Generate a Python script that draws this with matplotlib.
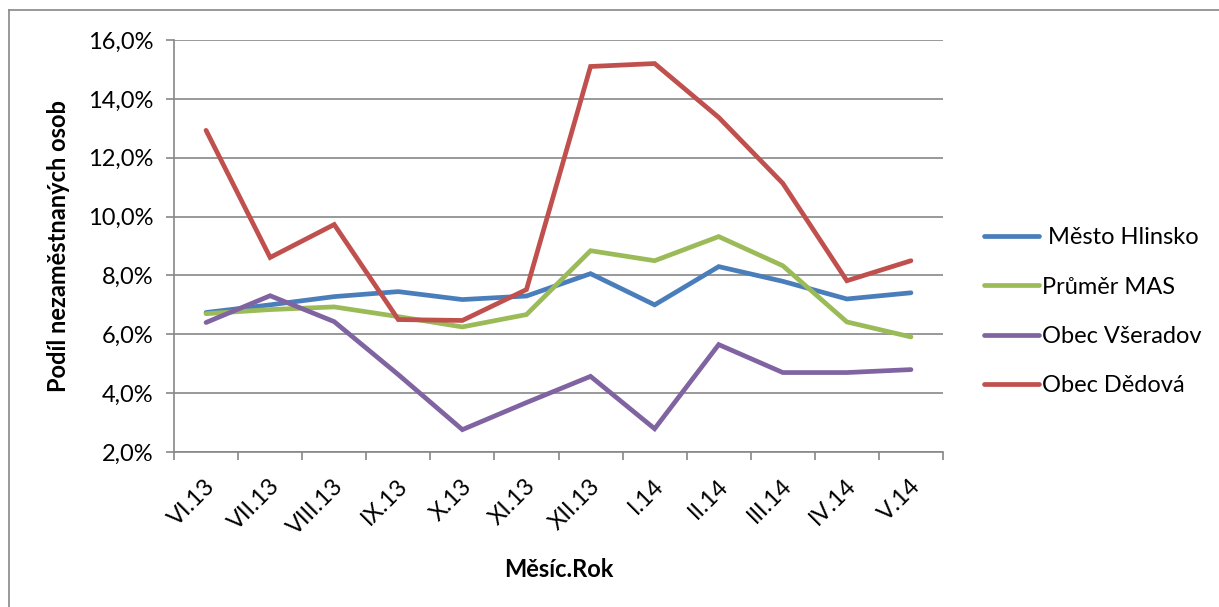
import numpy as np
import matplotlib
matplotlib.use('Agg')
import matplotlib.pyplot as plt
from matplotlib.lines import Line2D
from matplotlib.ticker import FuncFormatter, MultipleLocator, FixedLocator
import matplotlib.transforms as mtransforms

plt.rcParams['font.family'] = ['Lato', 'DejaVu Sans']

months = ['VI.13', 'VII.13', 'VIII.13', 'IX.13', 'X.13', 'XI.13',
          'XII.13', 'I.14', 'II.14', 'III.14', 'IV.14', 'V.14']

# share of unemployed persons, %
hlinsko = [6.74, 7.0, 7.28, 7.45, 7.18, 7.3, 8.06, 7.0, 8.3, 7.8, 7.2, 7.41]
mas = [6.7, 6.84, 6.93, 6.6, 6.25, 6.67, 8.84, 8.5, 9.32, 8.33, 6.42, 5.91]
vseradov = [6.4, 7.31, 6.43, 4.63, 2.76, 3.68, 4.57, 2.79, 5.65, 4.7, 4.7, 4.8]
dedova = [12.93, 8.61, 9.73, 6.5, 6.47, 7.52, 15.1, 15.2, 13.37, 11.13, 7.82, 8.5]

series = [(' Město Hlinsko', hlinsko, '#4A7EBB'),
          ('Průměr MAS', mas, '#9BBB59'),
          ('Obec Všeradov', vseradov, '#8064A2'),
          ('Obec Dědová', dedova, '#C0504D')]

fs = 17

fig = plt.figure(figsize=(12.19, 6.07), dpi=100)
ax = fig.add_axes([174 / 1219, 1 - 452 / 607, (943 - 174) / 1219, (452 - 40) / 607])

x = np.arange(len(months))
for name, vals, col in series:
    ax.plot(x, vals, color=col, lw=3.4, solid_capstyle='round', solid_joinstyle='miter', label=name)

ax.set_xlim(-0.5, len(months) - 0.5)
ax.set_ylim(2, 16)
ax.yaxis.set_major_locator(MultipleLocator(2))
ax.yaxis.set_major_formatter(FuncFormatter(lambda v, p: f'{v:.1f}%'.replace('.', ',')))
ax.grid(axis='y', color='#888888', lw=1.2)
ax.set_axisbelow(True)

ax.xaxis.set_major_locator(FixedLocator(np.arange(-0.5, len(months))))
ax.xaxis.set_major_formatter(FuncFormatter(lambda v, p: ''))
ax.xaxis.set_minor_locator(FixedLocator(x))
ax.set_xticklabels(months, minor=True, rotation=45, ha='right', va='center',
                   rotation_mode='anchor', fontsize=fs)
ax.tick_params(axis='x', which='major', length=6, color='#888888', width=1.2)
ax.tick_params(axis='x', which='minor', length=0, pad=22)
ax.tick_params(axis='y', length=6, color='#888888', width=1.2, labelsize=fs, pad=9)
off = mtransforms.ScaledTranslation(6 / 100, 0, fig.dpi_scale_trans)
for lbl in ax.get_xticklabels(minor=True):
    lbl.set_transform(lbl.get_transform() + off)

for s in ['top', 'right']:
    ax.spines[s].set_visible(False)
for s in ['left', 'bottom']:
    ax.spines[s].set_color('#888888')
    ax.spines[s].set_linewidth(1.2)

ax.set_xlabel('Měsíc.Rok', fontsize=fs, fontweight='bold')
ax.set_ylabel('Podíl nezaměstnaných osob', fontsize=fs, fontweight='bold')
ax.xaxis.set_label_coords((559 - 174) / (943 - 174), -(558 - 452) / (452 - 40))
ax.yaxis.set_label_coords(-(174 - 70) / (943 - 174), 0.5)

ax.legend(loc='center left', bbox_to_anchor=(1.026, 0.34), frameon=False, fontsize=fs,
          handlelength=2.3, handletextpad=0.15, labelspacing=1.2)

# outer frame
fig.add_artist(Line2D([9 / 1219, 9 / 1219], [0, 1 - 10 / 607], color='#888888', lw=1.2))
fig.add_artist(Line2D([9 / 1219, 1], [1 - 10 / 607, 1 - 10 / 607], color='#888888', lw=1.2))

fig.savefig('out.png', dpi=100)
